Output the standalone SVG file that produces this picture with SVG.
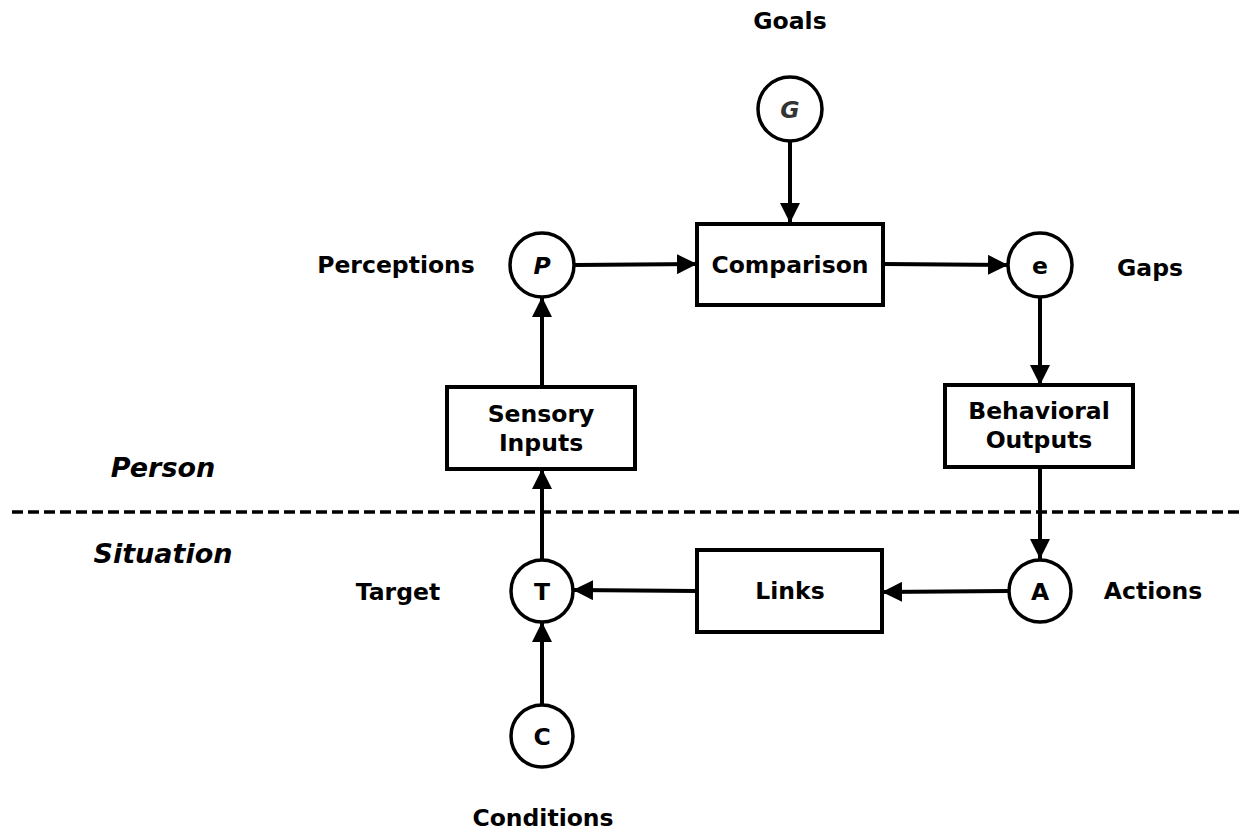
<svg xmlns="http://www.w3.org/2000/svg" width="1243" height="830" viewBox="0 0 1243 830">
<style>
text{font-family:"DejaVu Sans",Verdana,sans-serif;font-weight:bold;font-size:23.5px;fill:#000;text-anchor:middle;dominant-baseline:central}
.box{fill:#fff;stroke:#000;stroke-width:4}
.circ{fill:#fff;stroke:#000;stroke-width:3.5}
.edge{stroke:#000;stroke-width:4;fill:none;marker-end:url(#ah)}
.it{font-style:italic}
.side{font-size:27px;font-style:italic}
</style>
<defs>
<marker id="ah" markerWidth="20" markerHeight="20" refX="20" refY="10" orient="auto" markerUnits="userSpaceOnUse">
<path d="M0,0 L20,10 L0,20 Z" fill="#000"/>
</marker>
</defs>
<rect width="1243" height="830" fill="#fff"/>
<g id="connectors">
<path class="edge" d="M790,141 L790,223"/>
<path class="edge" d="M575,265 L697,264"/>
<path class="edge" d="M884,264 L1008,265"/>
<path class="edge" d="M1040,297 L1040,385"/>
<path class="edge" d="M1040,467 L1040,559"/>
<path class="edge" d="M1008,591 L882,592"/>
<path class="edge" d="M697,591 L573,590"/>
<path class="edge" d="M542,704 L542,622"/>
<path class="edge" d="M542,559 L542,469"/>
<path class="edge" d="M542,387 L542,297"/>
<line x1="12" y1="512" x2="1243" y2="512" stroke="#000" stroke-width="3.5" stroke-dasharray="11,5"/>
</g>
<g id="goals"><circle class="circ" cx="790" cy="109" r="32"/><text x="790" y="110" class="it" style="fill:#333">G</text></g>
<g id="comparison"><rect class="box" x="697" y="224" width="186" height="81"/><text x="790" y="265">Comparison</text></g>
<g id="perceptions"><circle class="circ" cx="542" cy="265" r="32"/><text x="542" y="266" class="it">P</text></g>
<g id="gaps"><circle class="circ" cx="1040" cy="265" r="32"/><text x="1040" y="266">e</text></g>
<g id="sensory"><rect class="box" x="447" y="387" width="188" height="82"/><text x="541" y="414">Sensory</text><text x="541" y="443">Inputs</text></g>
<g id="behavioral"><rect class="box" x="945" y="385" width="188" height="82"/><text x="1039" y="411">Behavioral</text><text x="1039" y="440">Outputs</text></g>
<g id="target"><circle class="circ" cx="542" cy="591" r="31"/><text x="542" y="592">T</text></g>
<g id="links"><rect class="box" x="697" y="550" width="185" height="82"/><text x="790" y="591">Links</text></g>
<g id="actions"><circle class="circ" cx="1040" cy="591" r="31"/><text x="1040" y="592">A</text></g>
<g id="conditions"><circle class="circ" cx="542" cy="736" r="31"/><text x="542" y="737">C</text></g>
<g id="labels">
<text x="790" y="21">Goals</text>
<text x="396" y="265">Perceptions</text>
<text x="1150" y="268">Gaps</text>
<text x="398" y="592">Target</text>
<text x="1153" y="591">Actions</text>
<text x="543" y="818">Conditions</text>
<text x="163" y="467" class="side">Person</text>
<text x="163" y="553" class="side">Situation</text>
</g>
</svg>
